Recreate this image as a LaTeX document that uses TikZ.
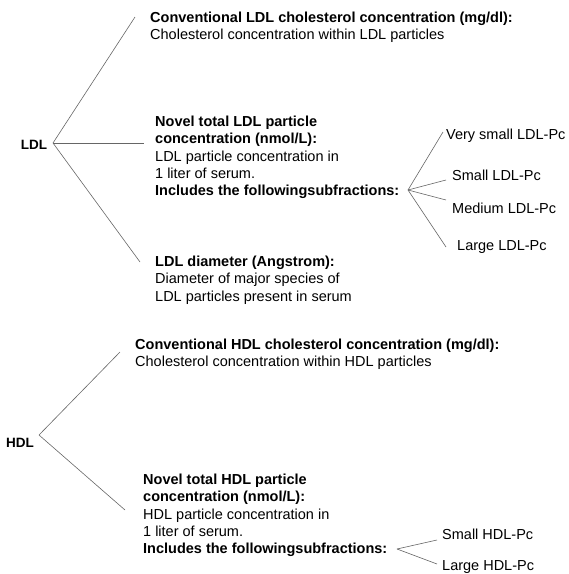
\documentclass[tikz,border=0pt]{standalone}
\usepackage{fontspec}
\setmainfont{Liberation Sans}
\begin{document}
\begin{tikzpicture}[x=1pt,y=-1pt,
  txt/.style={anchor=north west,inner sep=0pt,align=left,font=\fontsize{14.5}{17.2}\selectfont},
  lbl/.style={inner sep=0pt,font=\fontsize{13.5}{17}\selectfont\bfseries},
  sub/.style={anchor=west,inner sep=0pt,font=\fontsize{14.5}{17}\selectfont},
  con/.style={draw=black!60,line width=0.6pt}]
\useasboundingbox (0,0) rectangle (569,574);
% ---------- LDL ----------
\node[lbl] (ldl) at (34,145) {LDL};
\coordinate (ldlapex) at (53,143);
\coordinate (l1) at (135,17);
\coordinate (l2) at (144,143);
\coordinate (l3) at (140,262);
\draw[con] (ldlapex) -- (l1);
\draw[con] (ldlapex) -- (l2);
\draw[con] (ldlapex) -- (l3);
\node[txt] (convldl) at (150,12) {\textbf{Conventional LDL cholesterol concentration (mg/dl):}\\Cholesterol concentration within LDL particles};
\node[txt] (novelldl) at (155,116) {\textbf{Novel total LDL particle}\\\textbf{concentration (nmol/L):}\\LDL particle concentration in\\1 liter of serum.\\\textbf{Includes the followingsubfractions:}};
\node[txt] (diam) at (155,256) {\textbf{LDL diameter (Angstrom):}\\Diameter of major species of\\LDL particles present in serum};
\coordinate (lsapex) at (408,190);
\coordinate (s1) at (443,132);
\coordinate (s2) at (446,180);
\coordinate (s3) at (446,200);
\coordinate (s4) at (446,247);
\draw[con] (lsapex) -- (s1);
\draw[con] (lsapex) -- (s2);
\draw[con] (lsapex) -- (s3);
\draw[con] (lsapex) -- (s4);
\node[sub] (vs) at (446,136) {Very small LDL-Pc};
\node[sub] (sm) at (452,175) {Small LDL-Pc};
\node[sub] (md) at (452,208) {Medium LDL-Pc};
\node[sub] (lg) at (457,247) {Large LDL-Pc};
% ---------- HDL ----------
\node[lbl] (hdl) at (20,443) {HDL};
\coordinate (hapex) at (39,435);
\coordinate (h1) at (120,352);
\coordinate (h2) at (125,510);
\draw[con] (hapex) -- (h1);
\draw[con] (hapex) -- (h2);
\node[txt] (convhdl) at (135,339) {\textbf{Conventional HDL cholesterol concentration (mg/dl):}\\Cholesterol concentration within HDL particles};
\node[txt] (novelhdl) at (143,474) {\textbf{Novel total HDL particle}\\\textbf{concentration (nmol/L):}\\HDL particle concentration in\\1 liter of serum.\\\textbf{Includes the followingsubfractions:}};
\coordinate (hsapex) at (397,549);
\coordinate (hs1) at (437,540);
\coordinate (hs2) at (437,564);
\draw[con] (hsapex) -- (hs1);
\draw[con] (hsapex) -- (hs2);
\node[sub] (hsm) at (442,534) {Small HDL-Pc};
\node[sub] (hlg) at (442,567) {Large HDL-Pc};
\end{tikzpicture}
\end{document}
